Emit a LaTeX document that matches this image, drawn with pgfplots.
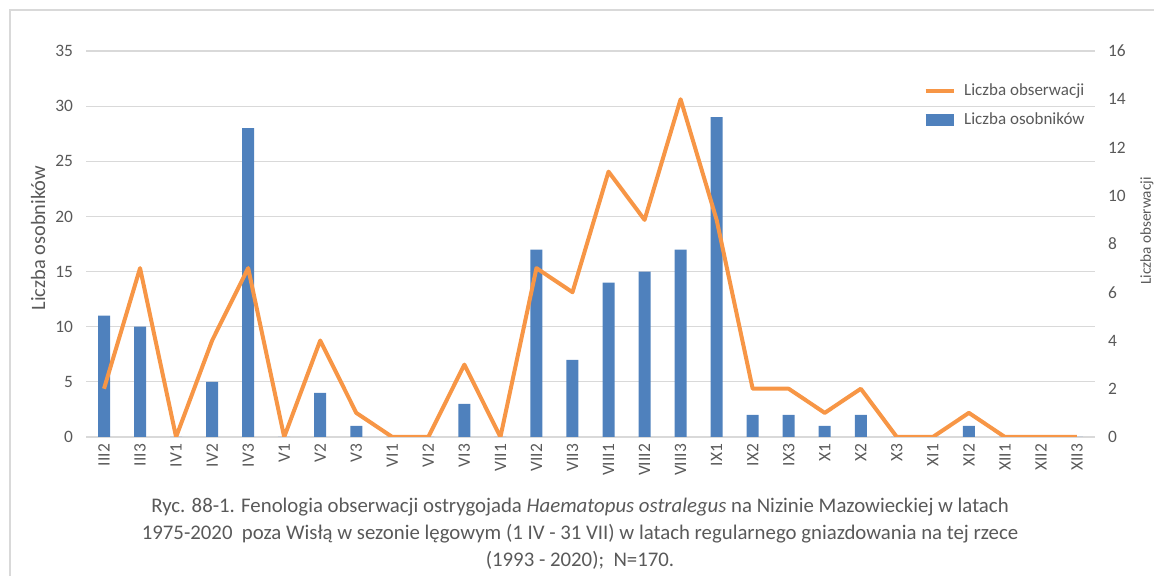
\documentclass[border=0pt]{standalone}
\usepackage{pgfplots}
\pgfplotsset{compat=1.18}
\usepackage{fontspec}
\setmainfont{Carlito}
\definecolor{barblue}{HTML}{4F81BD}
\definecolor{lineorange}{HTML}{F79646}
\definecolor{txtgray}{HTML}{595959}
\definecolor{gridgray}{HTML}{D9D9D9}
\pgfplotstableread{
x bars obs
0 11 2
1 10 7
2 0 0
3 5 4
4 28 7
5 0 0
6 4 4
7 1 1
8 0 0
9 0 0
10 3 3
11 0 0
12 17 7
13 7 6
14 14 11
15 15 9
16 17 14
17 29 9
18 2 2
19 2 2
20 1 1
21 2 2
22 0 0
23 0 0
24 1 1
25 0 0
26 0 0
27 0 0
}\datatable
\begin{document}
\begin{tikzpicture}
\path[use as bounding box] (0,0) rectangle (577pt,288pt);
\draw[gridgray, line width=0.6pt] (5pt,0) -- (5pt,283pt) -- (577pt,283pt);
\pgfplotsset{
  common/.style={
    at={(43pt,69.5pt)}, anchor=south west,
    scale only axis, width=504.5pt, height=193pt,
    xmin=-0.5, xmax=27.5,
    xtick=data,
    tick style={draw=none},
    ticklabel style={font=\fontsize{8.7}{10}\selectfont, text=txtgray},
    /pgf/number format/assume math mode=true,
  }
}
\begin{axis}[common,
  ymin=0, ymax=35, ytick={0,5,...,35},
  axis y line*=left, axis x line*=bottom,
  x axis line style={draw=gridgray, line width=0.6pt, -},
  y axis line style={draw=none},
  ymajorgrids, grid style={draw=gridgray, line width=0.6pt},
  xticklabels={III2,III3,IV1,IV2,IV3,V1,V2,V3,VI1,VI2,VI3,VII1,VII2,VII3,VIII1,VIII2,VIII3,IX1,IX2,IX3,X1,X2,X3,XI1,XI2,XII1,XII2,XII3},
  xticklabel style={rotate=90, anchor=east},
  xtick pos=bottom,
  yticklabel style={xshift=-3pt},
  ylabel={Liczba osobników},
  every axis y label/.style={at={(-24pt,99.5pt)}, rotate=90, anchor=center,
    font=\fontsize{10.2}{12}\selectfont, text=txtgray},
]
\addplot[ybar, bar width=6pt, fill=barblue, draw=none] table[x=x, y=bars] {\datatable};
\end{axis}
\begin{axis}[common,
  ymin=0, ymax=16, ytick={0,2,...,16},
  axis y line*=right, axis x line=none,
  y axis line style={draw=none},
  xticklabels={},
  yticklabel style={xshift=3pt},
  ylabel={Liczba obserwacji},
  every axis y label/.style={at={(530.5pt,103pt)}, rotate=90, anchor=center,
    font=\fontsize{7.6}{9}\selectfont, text=txtgray},
  legend style={at={(1.0,0.936)}, anchor=north east, draw=none, fill=none,
    font=\fontsize{8.5}{10}\selectfont, text=txtgray, row sep=3pt,
    legend cell align=left},
  legend image code/.code={\draw[#1] (0cm,0cm) -- (0.5cm,0cm);},
]
\addplot[color=lineorange, line width=2pt, line join=round] table[x=x, y=obs] {\datatable};
\addlegendentry{Liczba obserwacji}
\addlegendimage{barblue, line width=6pt}
\addlegendentry{Liczba osobników}
\end{axis}
\node[text=txtgray, font=\fontsize{10.4}{13.5}\selectfont, align=center] at (290pt,21pt) {Ryc. 88-1. Fenologia obserwacji ostrygojada \textit{Haematopus ostralegus} na Nizinie Mazowieckiej w latach\\1975-2020 \ poza Wisłą w sezonie lęgowym (1 IV - 31 VII) w latach regularnego gniazdowania na tej rzece\\(1993 - 2020); \ N=170.};
\end{tikzpicture}
\end{document}
